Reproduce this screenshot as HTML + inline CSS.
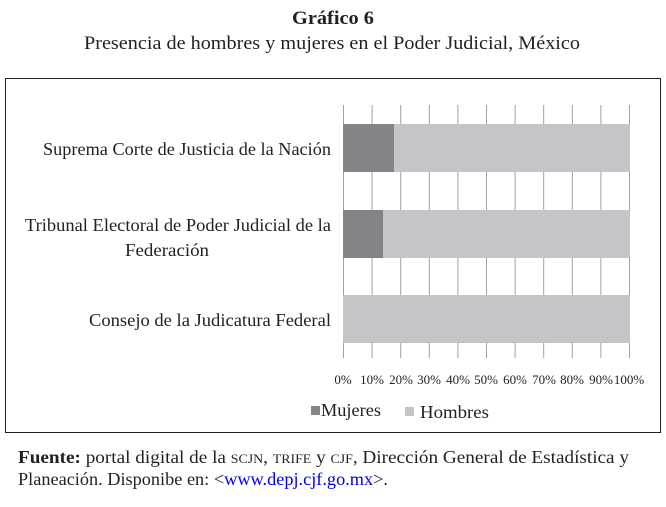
<!DOCTYPE html>
<html><head><meta charset="utf-8"><style>
body{margin:0;background:#fff;width:666px;height:502px;overflow:hidden}
svg text{font-family:"Liberation Serif",serif;fill:#231f20}
</style></head><body>
<svg width="666" height="502" xmlns="http://www.w3.org/2000/svg">
<text x="292" y="24" font-size="19" font-weight="bold" textLength="82" lengthAdjust="spacingAndGlyphs">Gráfico 6</text>
<text x="84" y="49" font-size="19" textLength="496" lengthAdjust="spacingAndGlyphs">Presencia de hombres y mujeres en el Poder Judicial, México</text>
<rect x="5.5" y="78.5" width="655" height="354" fill="none" stroke="#231f20" stroke-width="1"/>
<g stroke="#a0a0a0" stroke-width="1">
<line x1="343.5" y1="105" x2="343.5" y2="358"/>
<line x1="372.1" y1="105" x2="372.1" y2="358"/>
<line x1="400.7" y1="105" x2="400.7" y2="358"/>
<line x1="429.3" y1="105" x2="429.3" y2="358"/>
<line x1="457.9" y1="105" x2="457.9" y2="358"/>
<line x1="486.5" y1="105" x2="486.5" y2="358"/>
<line x1="515.1" y1="105" x2="515.1" y2="358"/>
<line x1="543.7" y1="105" x2="543.7" y2="358"/>
<line x1="572.3" y1="105" x2="572.3" y2="358"/>
<line x1="600.9" y1="105" x2="600.9" y2="358"/>
<line x1="629.5" y1="105" x2="629.5" y2="358"/>
</g>
<rect x="343" y="124" width="287" height="48" fill="#c4c5c9"/>
<rect x="343" y="124" width="51" height="48" fill="#858388"/>
<rect x="343" y="210" width="287" height="48" fill="#c4c5c9"/>
<rect x="343" y="210" width="40" height="48" fill="#858388"/>
<rect x="343" y="295" width="287" height="48" fill="#c4c5c9"/>
<g font-size="18" lengthAdjust="spacingAndGlyphs">
<text x="43" y="155" textLength="288" lengthAdjust="spacingAndGlyphs">Suprema Corte de Justicia de la Nación</text>
<text x="25" y="231" textLength="306" lengthAdjust="spacingAndGlyphs">Tribunal Electoral de Poder Judicial de la</text>
<text x="125" y="256" textLength="84" lengthAdjust="spacingAndGlyphs">Federación</text>
<text x="89" y="326" textLength="242" lengthAdjust="spacingAndGlyphs">Consejo de la Judicatura Federal</text>
</g>
<g font-size="13" text-anchor="middle">
<text x="343" y="384">0%</text><text x="372" y="384">10%</text><text x="401" y="384">20%</text>
<text x="429" y="384">30%</text><text x="458" y="384">40%</text><text x="486" y="384">50%</text>
<text x="515" y="384">60%</text><text x="544" y="384">70%</text><text x="572" y="384">80%</text>
<text x="601" y="384">90%</text><text x="629" y="384">100%</text>
</g>
<rect x="311" y="406" width="9" height="9" fill="#858388"/>
<text x="321" y="416" font-size="18" textLength="60" lengthAdjust="spacingAndGlyphs">Mujeres</text>
<rect x="405" y="407" width="9" height="9" fill="#c4c5c9"/>
<text x="420" y="418" font-size="18" textLength="69" lengthAdjust="spacingAndGlyphs">Hombres</text>
<text x="18" y="463" font-size="18" textLength="611" lengthAdjust="spacingAndGlyphs"><tspan font-weight="bold">Fuente:</tspan> portal digital de la <tspan font-size="13">SCJN</tspan>, <tspan font-size="13">TRIFE</tspan> y <tspan font-size="13">CJF</tspan>, Dirección General de Estadística y</text>
<text x="18" y="485" font-size="18" textLength="370" lengthAdjust="spacingAndGlyphs">Planeación. Disponibe en: &lt;<tspan style="fill:#0000ee">www.depj.cjf.go.mx</tspan>&gt;.</text>
</svg>
</body></html>
